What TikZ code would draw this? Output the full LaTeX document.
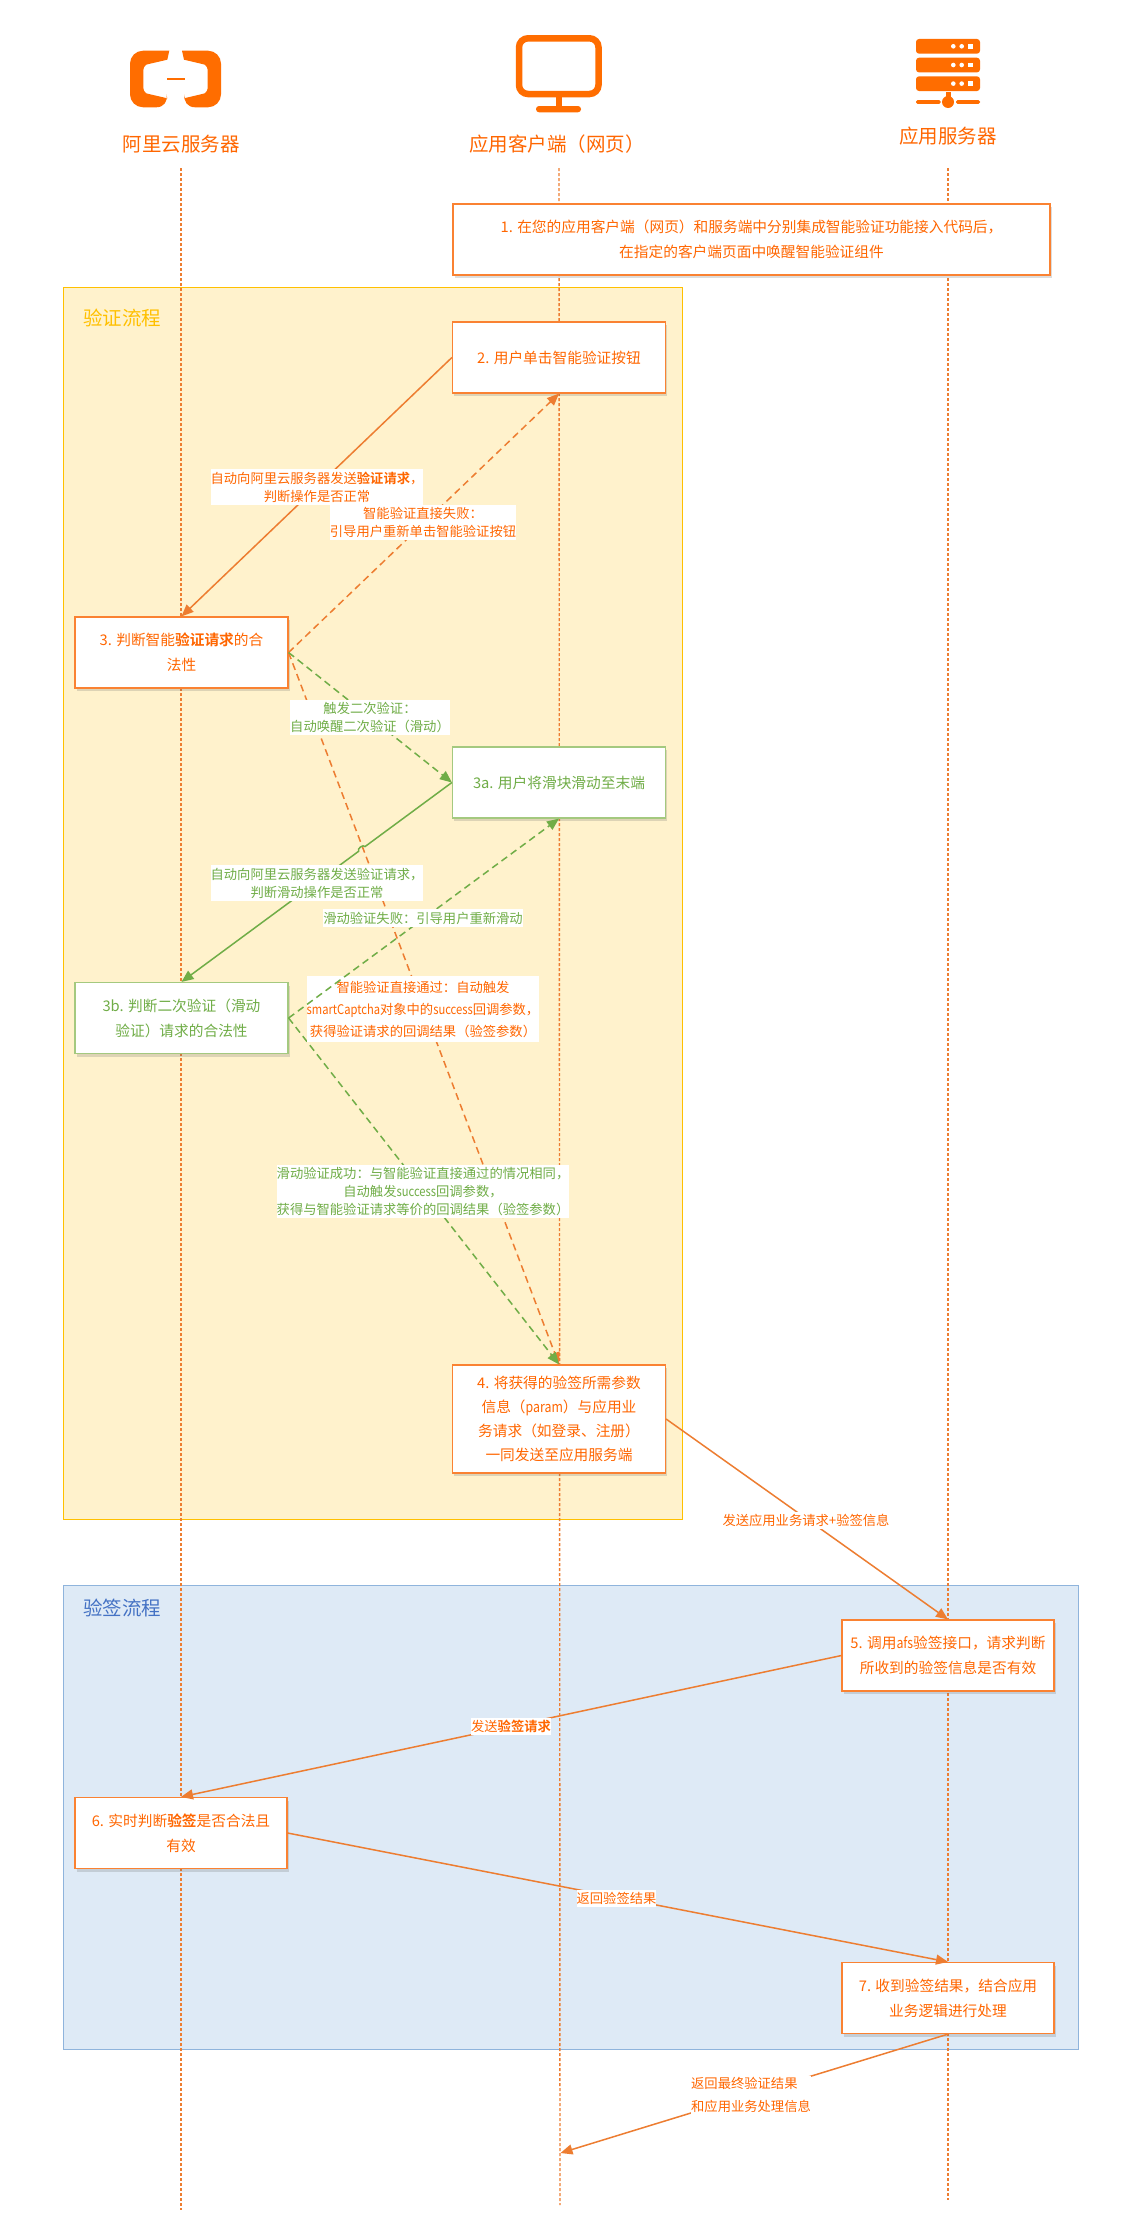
\documentclass[tikz,border=0pt]{standalone}
\usepackage{fontspec}
\setmainfont{Noto Sans CJK SC}[BoldFont=* Bold]
\newfontfamily\latn{Noto Sans CJK SC}[FakeStretch=0.84]
\newcommand{\ltn}[1]{{\latn #1}}
\usetikzlibrary{arrows.meta,calc,shadows}
\definecolor{ora}{HTML}{ED7D31}
\definecolor{orat}{HTML}{FF6600}
\definecolor{icono}{HTML}{FF6D00}
\definecolor{orab}{HTML}{FA8232}
\definecolor{gre}{HTML}{70AD47}
\definecolor{greb}{HTML}{A4C97F}
\definecolor{yelf}{HTML}{FFF2CC}
\definecolor{yelb}{HTML}{FFC000}
\definecolor{bluf}{HTML}{DEEAF6}
\definecolor{blub}{HTML}{8FB4DC}
\definecolor{blut}{HTML}{4472C4}
\tikzset{
  x=1pt,y=-1pt,
  lane/.style={draw=#1,line width=1pt},
  lifeline/.style={draw=ora,line width=1.4pt,dash pattern=on 3pt off 2pt},
  boxbase/.style={rectangle,fill=white,inner sep=0pt,align=center,line width=1.2pt,
    font=\fontsize{14.7}{25}\selectfont,
    drop shadow={shadow xshift=1.5pt,shadow yshift=-3pt,opacity=.22,fill=black!60}},
  obox/.style={boxbase,draw=orab,text=orat},
  gbox/.style={boxbase,draw=greb,text=gre},
  lbl/.style={fill=white,inner sep=0pt,align=center,font=\fontsize{13.3}{18}\selectfont},
  olbl/.style={lbl,text=orat},
  glbl/.style={lbl,text=gre},
  head/.style={inner sep=0pt,text=orat,font=\fontsize{19.5}{24}\selectfont},
  lanetitle/.style={inner sep=0pt,font=\fontsize{19.5}{24}\selectfont},
  solo/.style={draw=ora,line width=1.5pt,-{Triangle[length=12pt,width=10pt,fill=ora]}},
  dasho/.style={solo,dash pattern=on 7pt off 4.5pt},
  solg/.style={draw=gre,line width=1.5pt,-{Triangle[length=12pt,width=10pt,fill=gre]}},
  dashg/.style={solg,dash pattern=on 7pt off 4.5pt},
}
\begin{document}
\begin{tikzpicture}
\useasboundingbox (0,0) rectangle (1146,2232);
\fill[white] (0,0) rectangle (1146,2232);

% lanes
\filldraw[lane=yelb,fill=yelf] (63,287) rectangle (682,1519);
\filldraw[lane=blub,fill=bluf] (63,1585) rectangle (1078,2049);
\node[lanetitle,text=yelb] (tv) at (122,318) {验证流程};
\node[lanetitle,text=blut] (ts) at (122,1608) {验签流程};

% icons
\fill[icono,rounded corners=13pt] (169.3,50.7) -- (130,50.7) -- (130,107.3) -- (169.3,107.3) [sharp corners] -- (167.3,98.3) -- (146.7,93.5) [rounded corners=3pt] -- (143.3,91) -- (143.3,67) [sharp corners] -- (146.7,64.5) -- (167.3,59.7) -- cycle;
\fill[icono,rounded corners=13pt] (182,50.7) -- (221,50.7) -- (221,107.3) -- (182,107.3) [sharp corners] -- (184,98.3) -- (204.3,93.5) [rounded corners=3pt] -- (207.7,91) -- (207.7,67) [sharp corners] -- (204.3,64.5) -- (184,59.7) -- cycle;
\fill[icono] (166.7,77.7) rectangle (184.7,79.7);

\draw[icono,line width=6.5pt,rounded corners=9pt] (519,38.3) rectangle (598.5,94);
\fill[icono] (556,94) rectangle (562,108);
\fill[icono,rounded corners=3pt] (536,106) rectangle (581,112.3);

\foreach \yy in {39,57.7,76.3}{
  \fill[icono,rounded corners=3pt] (916,\yy) rectangle (980,\yy+14.7);
  \fill[white] (953.3,\yy+7.3) circle[radius=2.3pt];
  \fill[white] (961.7,\yy+7.3) circle[radius=2.3pt];
  \fill[white] (967.7,\yy+5) rectangle (972.7,\yy+9.8);
}
\fill[icono] (945.7,92) rectangle (951,97);
\fill[icono,rounded corners=1.5pt] (916,100.2) rectangle (940.7,103.8);
\fill[icono,rounded corners=1.5pt] (956,100.2) rectangle (980,103.8);
\fill[icono] (948,102) circle[radius=6pt];

% headers
\node[head] (h1) at (181,144) {阿里云服务器};
\node[head] (h2) at (557,144) {应用客户端（网页）};
\node[head] (h3) at (948,136) {应用服务器};

% lifelines
\coordinate (l1t) at (181,168); \coordinate (l1b) at (181,2210);
\coordinate (l2t) at (559,168); \coordinate (l2b) at (560,2205);
\coordinate (l3t) at (948,168); \coordinate (l3b) at (948,2200);
\draw[lifeline] (l1t) -- (l1b);
\draw[lifeline] (l2t) -- (l2b);
\draw[lifeline] (l3t) -- (l3b);

% boxes
\node[obox,minimum width=597pt,minimum height=71pt] (b1) at (751.5,239.5) {1. 在您的应用客户端（网页）和服务端中分别集成智能验证功能接入代码后，\\在指定的客户端页面中唤醒智能验证组件};
\node[obox,minimum width=213pt,minimum height=71pt] (b2) at (559,357.5) {2. 用户单击智能验证按钮};
\node[obox,minimum width=213pt,minimum height=71pt] (b3) at (181.5,652.5) {3. 判断智能\textbf{验证请求}的合\\法性};
\node[gbox,minimum width=213pt,minimum height=71pt] (b3a) at (559,782.5) {3a. 用户将滑块滑动至末端};
\node[gbox,minimum width=213pt,minimum height=71pt] (b3b) at (181.5,1018) {3b. 判断二次验证（滑动\\验证）请求的合法性};
\node[obox,minimum width=213pt,minimum height=108pt,font=\fontsize{14.7}{24}\selectfont] (b4) at (559,1419) {4. 将获得的验签所需参数\\信息（\ltn{param}）与应用业\\务请求（如登录、注册）\\一同发送至应用服务端};
\node[obox,minimum width=212pt,minimum height=71pt] (b5) at (948,1655.5) {5. 调用\ltn{afs}验签接口，请求判断\\所收到的验签信息是否有效};
\node[obox,minimum width=212pt,minimum height=71pt] (b6) at (181,1833) {6. 实时判断\textbf{验签}是否合法且\\有效};
\node[obox,minimum width=212pt,minimum height=71pt] (b7) at (948,1998) {7. 收到验签结果，结合应用\\业务逻辑进行处理};

% connectors
\draw[solo] (b2.west) -- (b3.north);
\draw[dasho] (b3.east) -- (b2.south);
\draw[dasho] (b3.east) -- (b4.north);
\draw[dashg] (b3.east) -- (b3a.west);
\draw[solg] (b3a.west) -- ($(b3a.west)!.321!(b3b.north)$) to[bend right=90] ($(b3a.west)!.345!(b3b.north)$) -- (b3b.north);
\draw[dashg] (b3b.east) -- (b4.north);
\draw[solo] (b4.east) -- (b5.north);
\draw[solo] (b5.west) -- (b6.north);
\draw[solo] (b6.east) -- (b7.north);
\coordinate (endc) at (560.5,2153);
\draw[solo] (b7.south) -- (endc);

% labels
\node[olbl,minimum height=36pt] (e1) at (317,487) {自动向阿里云服务器发送\textbf{验证请求}，\\判断操作是否正常};
\node[olbl,minimum height=35pt] (e2) at (423,522.5) {智能验证直接失败：\\引导用户重新单击智能验证按钮};
\node[glbl,minimum height=35pt] (e3) at (370,717.5) {触发二次验证：\\自动唤醒二次验证（滑动）};
\node[glbl,minimum height=36pt] (e4) at (317,883) {自动向阿里云服务器发送验证请求，\\判断滑动操作是否正常};
\node[olbl,minimum height=66pt,font=\fontsize{13.3}{22}\selectfont] (e6) at (423,1009) {智能验证直接通过：自动触发\\\ltn{smartCaptcha}对象中的\ltn{success}回调参数，\\获得验证请求的回调结果（验签参数）};
\draw[dashg] (b3b.east) -- (b3a.south);
\node[glbl,minimum height=18pt] (e5) at (423,918) {滑动验证失败：引导用户重新滑动};
\node[glbl,minimum height=53pt] (e7) at (423,1191.5) {滑动验证成功：与智能验证直接通过的情况相同，\\自动触发\ltn{success}回调参数，\\获得与智能验证请求等价的回调结果（验签参数）};
\node[olbl,minimum height=17pt] (e8) at (806,1520) {发送应用业务请求+验签信息};
\node[olbl,minimum height=17pt] (e9) at (511,1726.5) {发送\textbf{验签请求}};
\node[olbl,minimum height=17pt] (e10) at (616.5,1898.5) {返回验签结果};
\node[olbl,align=left,minimum height=38pt,font=\fontsize{13.3}{22.5}\selectfont] (e11) at (751,2095) {返回最终验证结果\\和应用业务处理信息};
\end{tikzpicture}
\end{document}
